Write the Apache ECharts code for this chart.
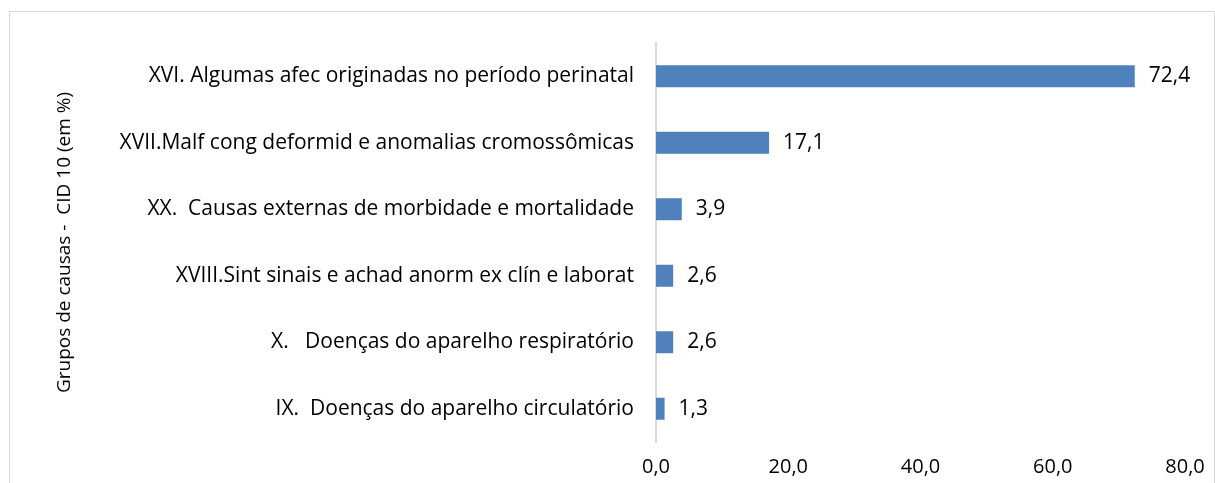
<!DOCTYPE html>
<html>
<head>
<meta charset="utf-8">
<script src="https://cdn.jsdelivr.net/npm/echarts@6/dist/echarts.min.js"></script>
<style>
  html, body { margin: 0; padding: 0; background: #fff; }
  #chart { width: 1215px; height: 483px; }
</style>
</head>
<body>
<div id="chart"></div>
<script>
// Causas de óbito por grupo CID 10 (em %)
const categories = [
  'XVI. Algumas afec originadas no período perinatal',
  'XVII.Malf cong deformid e anomalias cromossômicas',
  'XX.  Causas externas de morbidade e mortalidade',
  'XVIII.Sint sinais e achad anorm ex clín e laborat',
  'X.   Doenças do aparelho respiratório',
  'IX.  Doenças do aparelho circulatório'
];
const values = [72.4, 17.1, 3.9, 2.6, 2.6, 1.3];
const axisTicks = [0, 20, 40, 60, 80];

const fontFamily = '"Open Sans", sans-serif';
const fmt = v => v.toFixed(1).replace('.', ',');

const chart = echarts.init(document.getElementById('chart'));

chart.setOption({
  animation: false,
  textStyle: { fontFamily: fontFamily },
  graphic: [{
    type: 'rect',
    shape: { x: 9.5, y: 11.5, width: 1205, height: 490 },
    style: { fill: 'none', stroke: '#D9D9D9', lineWidth: 1 }
  }],
  grid: { left: 656, right: 30, top: 43, bottom: 41 },
  xAxis: {
    type: 'value',
    min: axisTicks[0],
    max: axisTicks[axisTicks.length - 1],
    interval: 20,
    axisLine: { show: false },
    axisTick: { show: false },
    splitLine: { show: false },
    axisLabel: {
      margin: 15,
      fontSize: 20,
      color: '#000',
      fontFamily: fontFamily,
      formatter: v => fmt(v)
    }
  },
  yAxis: {
    type: 'category',
    data: categories,
    inverse: true,
    name: 'Grupos de causas -  CID 10 (em %)',
    nameLocation: 'middle',
    nameRotate: 90,
    nameGap: 582,
    nameTextStyle: { fontSize: 19, color: '#000', fontFamily: fontFamily },
    axisLine: { show: true, lineStyle: { color: '#D9D9D9', width: 2 } },
    axisTick: { show: false },
    axisLabel: {
      margin: 22,
      fontSize: 21,
      color: '#000',
      fontFamily: fontFamily
    }
  },
  series: [{
    type: 'bar',
    data: values,
    barWidth: 22,
    itemStyle: { color: '#4F81BD' },
    label: {
      show: true,
      position: 'right',
      distance: 14,
      fontSize: 21,
      color: '#000',
      fontFamily: fontFamily,
      formatter: p => fmt(p.value)
    }
  }]
});

window.addEventListener('resize', chart.resize);
</script>
</body>
</html>
